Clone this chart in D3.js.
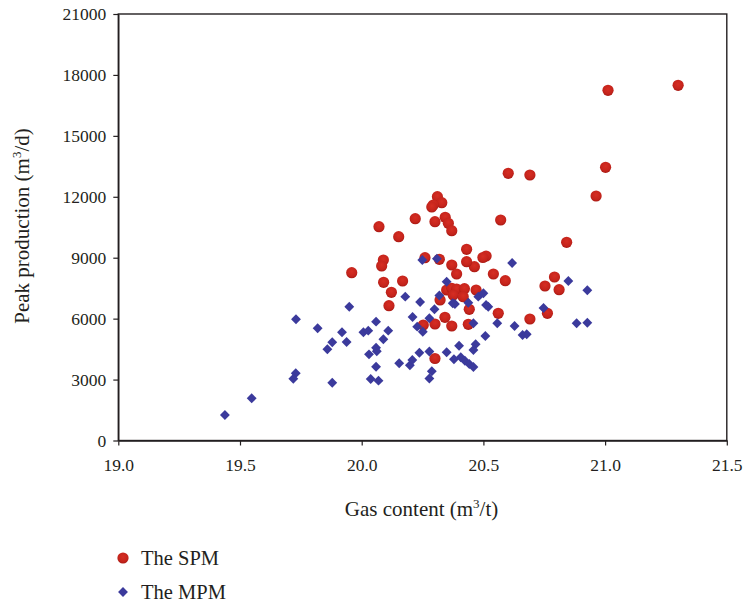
<!DOCTYPE html>
<html>
<head>
<meta charset="utf-8">
<script src="https://cdn.jsdelivr.net/npm/d3@7/dist/d3.min.js"></script>
<style>
  html, body { margin: 0; padding: 0; background: #fff; }
  svg { display: block; }
  text { font-family: "Liberation Serif", "DejaVu Serif", serif; fill: #231f20; }
</style>
</head>
<body>
<svg id="chart" width="744" height="606"></svg>
<script>
// ---- Data ----
const xTicks = [19.0, 19.5, 20.0, 20.5, 21.0, 21.5];
const yTicks = [0, 3000, 6000, 9000, 12000, 15000, 18000, 21000];
const seriesNames = ["The SPM", "The MPM"];

const spmX = [21.30, 21.012, 21.002, 20.963, 20.842, 20.691, 20.602, 20.571, 20.792, 20.753,
  20.811, 20.763, 20.691, 20.561, 20.590, 20.541, 20.511, 20.498, 20.463, 20.431,
  20.431, 20.370, 20.390, 20.319, 20.260, 20.311, 20.329, 20.294, 20.288, 20.220,
  20.301, 20.343, 20.356, 20.370, 20.071, 20.152, 20.089, 20.082, 19.959, 20.090,
  20.168, 20.122, 20.112, 20.349, 20.370, 20.390, 20.422, 20.470, 20.376, 20.417,
  20.322, 20.442, 20.342, 20.253, 20.301, 20.370, 20.438, 20.301];
const spmY = [17490, 17244, 13452, 12039, 9759, 13073, 13157, 10858, 8051, 7608,
  7425, 6263, 5983, 6263, 7869, 8198, 9085, 9011, 8558, 9415,
  8804, 8642, 8198, 8922, 9001, 12005, 11709, 11596, 11497, 10921,
  10774, 10990, 10695, 10331, 10527, 10035, 8888, 8592, 8263, 7790,
  7854, 7297, 6638, 7411, 7494, 7460, 7475, 7411, 7164, 7081,
  6918, 6460, 6066, 5687, 5736, 5638, 5722, 4038];

const mpmX = [19.438, 19.548, 19.730, 19.729, 19.719, 19.819, 19.859, 19.879, 19.919, 19.938,
  19.949, 19.879, 20.007, 20.027, 20.059, 20.109, 20.089, 20.059, 20.062, 20.030,
  20.059, 20.037, 20.069, 20.154, 20.198, 20.208, 20.179, 20.209, 20.228, 20.251,
  20.240, 20.249, 20.309, 20.278, 20.299, 20.319, 20.349, 20.374, 20.383, 20.438,
  20.479, 20.500, 20.511, 20.520, 20.459, 20.557, 20.618, 20.628, 20.661, 20.678,
  20.508, 20.747, 20.849, 20.883, 20.927, 20.927, 20.400, 20.468, 20.459, 20.349,
  20.278, 20.237, 20.379, 20.407, 20.424, 20.442, 20.459, 20.288, 20.278];
const mpmY = [1256, 2078, 5968, 3309, 3043, 5525, 4491, 4835, 5328, 4850,
  6588, 2846, 5328, 5407, 5850, 5407, 4983, 4569, 4392, 4244,
  3634, 3028, 2945, 3801, 3703, 3964, 7081, 6081, 5604, 5357,
  6820, 8888, 8952, 6017, 6465, 7140, 7819, 6756, 6721, 6785,
  7081, 7248, 6672, 6588, 5771, 5771, 8740, 5638, 5195, 5229,
  5146, 6524, 7854, 5771, 5800, 7396, 4668, 4737, 4456, 4343,
  4382, 4323, 3998, 4097, 3924, 3767, 3619, 3412, 3053];

// ---- Layout ----
const svg = d3.select("#chart");
const mLeft = 118.3, mRight = 726.8, mTop = 14, mBottom = 440.5;
const x = d3.scaleLinear().domain([19.0, 21.5]).range([mLeft, mRight]);
const y = d3.scaleLinear().domain([0, 21000]).range([mBottom, mTop]);

const blue = "#3b3a9c";

const defs = svg.append("defs");
const grad = defs.append("radialGradient").attr("id", "redGrad")
  .attr("cx", "50%").attr("cy", "40%").attr("r", "60%");
grad.append("stop").attr("offset", "0%").attr("stop-color", "#d62e23");
grad.append("stop").attr("offset", "70%").attr("stop-color", "#c5241c");
grad.append("stop").attr("offset", "100%").attr("stop-color", "#a81913");

// frame
svg.append("rect").attr("x", mLeft).attr("y", mTop)
  .attr("width", mRight - mLeft).attr("height", mBottom - mTop)
  .attr("fill", "none").attr("stroke", "#231f20").attr("stroke-width", 1.4);

// axes
const xAxis = d3.axisBottom(x).tickValues(xTicks).tickFormat(d3.format(".1f"))
  .tickSize(5).tickSizeOuter(0).tickPadding(13);
const gx = svg.append("g").attr("transform", `translate(0,${mBottom})`).call(xAxis);
const yAxis = d3.axisLeft(y).tickValues(yTicks).tickFormat(d => d)
  .tickSize(5).tickSizeOuter(0).tickPadding(7);
const gy = svg.append("g").attr("transform", `translate(${mLeft},0)`).call(yAxis);
[gx, gy].forEach(g => {
  g.select(".domain").attr("stroke", "#231f20").attr("stroke-width", 1.4);
  g.selectAll(".tick line").attr("stroke", "#231f20").attr("stroke-width", 1.2);
  g.selectAll(".tick text").attr("font-size", 17.5)
    .attr("font-family", '"Liberation Serif", serif').attr("fill", "#231f20");
});

// points
const spm = spmX.map((v, i) => ({x: v, y: spmY[i]}));
const mpm = mpmX.map((v, i) => ({x: v, y: mpmY[i]}));

svg.append("g").selectAll("circle").data(spm).join("circle")
  .attr("cx", d => x(d.x)).attr("cy", d => y(d.y)).attr("r", 5.6)
  .attr("fill", "url(#redGrad)");

const diamond = d3.symbol().type(d3.symbolDiamond2).size(62);
svg.append("g").selectAll("path").data(mpm).join("path")
  .attr("d", diamond)
  .attr("transform", d => `translate(${x(d.x)},${y(d.y)})`)
  .attr("fill", blue);

// axis titles
const xt = svg.append("text").attr("x", (mLeft + mRight) / 2 - 1).attr("y", 516)
  .attr("text-anchor", "middle").attr("font-size", 21);
xt.append("tspan").text("Gas content (m");
xt.append("tspan").attr("dy", -8).attr("font-size", 13).text("3");
xt.append("tspan").attr("dy", 8).text("/t)");

const yt = svg.append("text").attr("transform", "translate(29,226) rotate(-90)")
  .attr("text-anchor", "middle").attr("font-size", 21);
yt.append("tspan").text("Peak production (m");
yt.append("tspan").attr("dy", -8).attr("font-size", 13).text("3");
yt.append("tspan").attr("dy", 8).text("/d)");

// legend
const leg = svg.append("g");
leg.append("circle").attr("cx", 123).attr("cy", 558).attr("r", 5.6).attr("fill", "url(#redGrad)");
leg.append("path").attr("d", diamond).attr("transform", "translate(123,592)").attr("fill", blue);
leg.append("text").attr("x", 141).attr("y", 564.5).attr("font-size", 20.5).text(seriesNames[0]);
leg.append("text").attr("x", 141).attr("y", 598.5).attr("font-size", 20.5).text(seriesNames[1]);
</script>
</body>
</html>
